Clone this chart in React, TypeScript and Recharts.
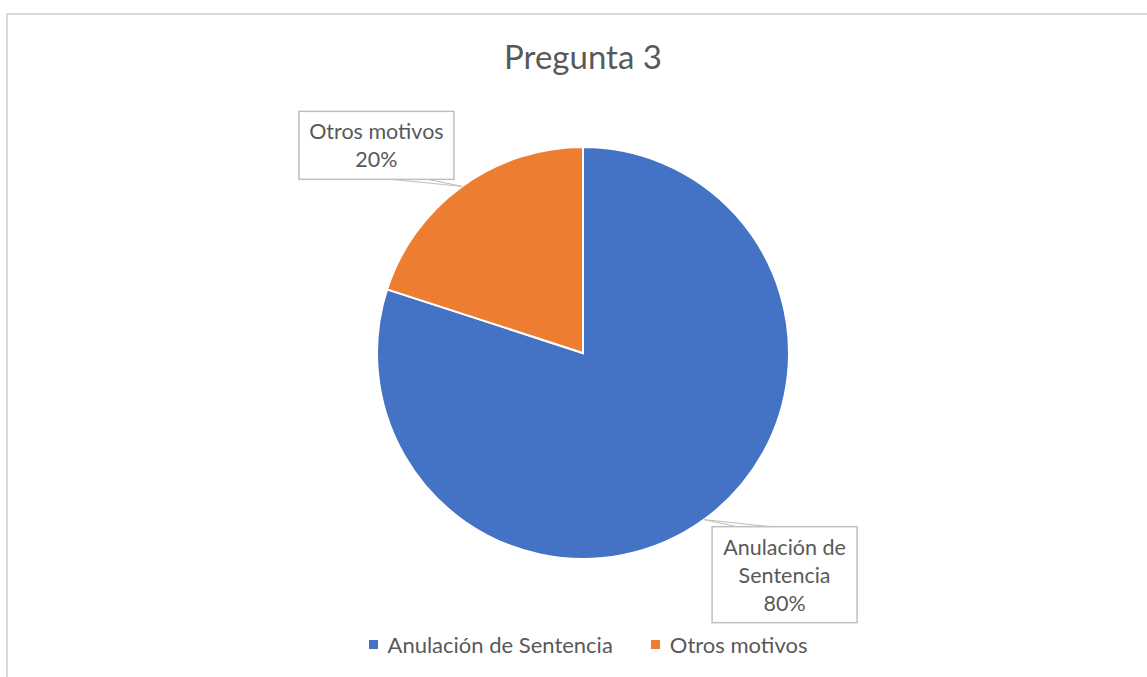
import React from 'react';
import { PieChart, Pie, Cell } from 'recharts';

const categories = ['Anulación de Sentencia', 'Otros motivos'];
const values = [80, 20];
const colors = ['#4472C4', '#ED7D31'];

const data = categories.map((name, i) => ({ name, value: values[i] }));

const FONT = 'Lato, "Open Sans", sans-serif';
const TEXT = '#595959';
const RADIAN = Math.PI / 180;

// callout box layout per slice, relative to the point on the slice edge
const callouts = [
  { dx: 8, dy: 7, w: 145, h: 96, lines: ['Anulación de', 'Sentencia'], p1: 25, p2: 58, below: true },
  { dx: -163, dy: -75, w: 155, h: 68, lines: ['Otros motivos'], p1: 92, p2: 129, below: false },
];

function renderLabel(props: any) {
  const { cx, cy, midAngle, outerRadius, percent, index } = props;
  const ex = cx + outerRadius * Math.cos(-midAngle * RADIAN);
  const ey = cy + outerRadius * Math.sin(-midAngle * RADIAN);
  const c = callouts[index];
  const bx = ex + c.dx;
  const by = ey + c.dy;
  const lines = [...c.lines, `${Math.round(percent * 100)}%`];
  const edgeY = c.below ? by : by + c.h;
  const lh = 28;
  const top = by + c.h / 2 - ((lines.length - 1) * lh) / 2;
  return (
    <g>
      <polyline
        points={`${bx + c.p1},${edgeY} ${ex},${ey} ${bx + c.p2},${edgeY}`}
        fill="none"
        stroke="#bfbfbf"
        strokeWidth={1}
      />
      <rect x={bx} y={by} width={c.w} height={c.h} fill="#fff" stroke="#bfbfbf" strokeWidth={1.5} />
      {lines.map((t, i) => (
        <text
          key={i}
          x={bx + c.w / 2}
          y={top + i * lh}
          textAnchor="middle"
          dominantBaseline="central"
          fill={TEXT}
          fontSize={21.5}
          fontFamily={FONT}
        >
          {t}
        </text>
      ))}
    </g>
  );
}

export default function App() {
  return (
    <div style={{ position: 'absolute', left: 0, top: 0, width: 1147, height: 677, overflow: 'hidden', background: '#fff' }}>
      <div
        style={{
          position: 'absolute',
          left: 6,
          top: 13,
          width: 1170,
          height: 700,
          border: '2px solid #d9d9d9',
        }}
      />
      <div
        style={{
          position: 'absolute',
          left: 0,
          top: 36,
          width: 1166,
          textAlign: 'center',
          fontFamily: FONT,
          fontSize: 33,
          color: TEXT,
        }}
      >
        Pregunta 3
      </div>
      <div style={{ position: 'absolute', left: 0, top: 0 }}>
        <PieChart width={1147} height={677} margin={{ top: 0, right: 0, bottom: 0, left: 0 }}>
          <Pie
            data={data}
            dataKey="value"
            nameKey="name"
            cx={583}
            cy={353}
            outerRadius={206}
            startAngle={90}
            endAngle={-270}
            stroke="#fff"
            strokeWidth={2}
            label={renderLabel}
            labelLine={false}
            isAnimationActive={false}
          >
            {data.map((d, i) => (
              <Cell key={d.name} fill={colors[i]} />
            ))}
          </Pie>
        </PieChart>
      </div>
      <div
        style={{
          position: 'absolute',
          left: 0,
          top: 631,
          width: 1176,
          display: 'flex',
          justifyContent: 'center',
          gap: 38,
          fontFamily: FONT,
          fontSize: 22,
          color: TEXT,
        }}
      >
        {data.map((d, i) => (
          <div key={d.name} style={{ display: 'flex', alignItems: 'center' }}>
            <span style={{ width: 9, height: 9, background: colors[i], marginRight: 10, display: 'inline-block' }} />
            <span>{d.name}</span>
          </div>
        ))}
      </div>
    </div>
  );
}
